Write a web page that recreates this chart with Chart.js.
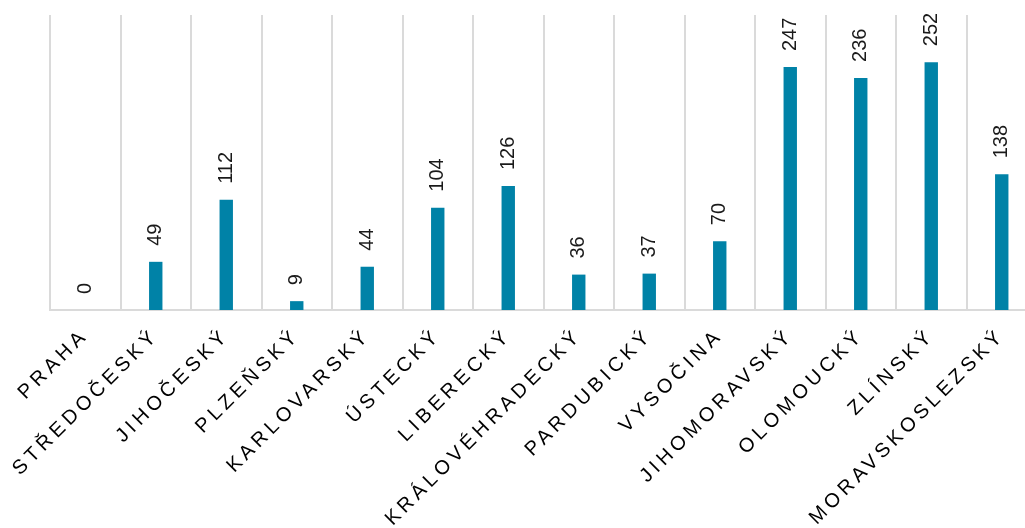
<!DOCTYPE html>
<html>
<head>
<meta charset="utf-8">
<script src="https://cdn.jsdelivr.net/npm/chart.js@4"></script>
<style>
  html, body { margin: 0; padding: 0; background: #fff; overflow: hidden; }
  #wrap { width: 1040px; height: 528px; }
</style>
</head>
<body>
<div id="wrap"><canvas id="kraje-chart"></canvas></div>
<script>
// Počty podle krajů
const kraje = ['PRAHA', 'STŘEDOČESKÝ', 'JIHOČESKÝ', 'PLZEŇSKÝ', 'KARLOVARSKÝ', 'ÚSTECKÝ', 'LIBERECKÝ',
	'KRÁLOVÉHRADECKÝ', 'PARDUBICKÝ', 'VYSOČINA', 'JIHOMORAVSKÝ', 'OLOMOUCKÝ', 'ZLÍNSKÝ', 'MORAVSKOSLEZSKÝ'];
const hodnoty = [0, 49, 112, 9, 44, 104, 126, 36, 37, 70, 247, 236, 252, 138];
const osaY = { min: 0, max: 300 };

const barva = '#0082a7';
const mrizka = '#dadada';
const pismo = '"Liberation Sans", Arial, sans-serif';

// Popisky hodnot nad sloupci, otočené o 90°
const popiskyHodnot = {
	id: 'popiskyHodnot',
	afterDatasetsDraw(chart) {
		const { ctx } = chart;
		const meta = chart.getDatasetMeta(0);

		ctx.save();
		ctx.letterSpacing = '0px';
		ctx.font = '20px ' + pismo;
		ctx.fillStyle = '#1a1a1a';
		ctx.textAlign = 'left';
		ctx.textBaseline = 'middle';

		meta.data.forEach((bar, i) => {
			ctx.save();
			ctx.translate(bar.x, bar.y - 16);
			ctx.rotate(-Math.PI / 2);
			ctx.fillText(String(hodnoty[i]), 0, 0);
			ctx.restore();
		});

		ctx.restore();
	}
};

// Rozestup písmen u popisků osy
const rozestup = {
	id: 'rozestup',
	beforeInit(chart) {
		chart.ctx.letterSpacing = '4.2px';
	},
	beforeDraw(chart) {
		chart.ctx.letterSpacing = '4.2px';
	}
};

const canvas = document.getElementById('kraje-chart');

new Chart(canvas, {
	type: 'bar',
	data: {
		labels: kraje,
		datasets: [{
			data: hodnoty,
			backgroundColor: barva,
			borderWidth: 0,
			barPercentage: 0.19,
			categoryPercentage: 1
		}]
	},
	options: {
		responsive: true,
		maintainAspectRatio: false,
		animation: false,
		events: [],
		layout: { padding: { left: 50, right: 3, top: 15, bottom: 0 } },
		plugins: {
			legend: { display: false },
			tooltip: { enabled: false }
		},
		scales: {
			x: {
				grid: { color: mrizka, lineWidth: 2, drawTicks: false, offset: true },
				border: { color: mrizka, width: 2 },
				ticks: {
					color: '#000',
					font: { family: pismo, size: 20 },
					minRotation: 45,
					maxRotation: 45,
					autoSkip: false,
					padding: 14
				},
				afterFit(scale) {
					scale.paddingLeft = 0;
					scale.paddingRight = 0;
					scale.height = 218;
				}
			},
			y: {
				display: false,
				min: osaY.min,
				max: osaY.max
			}
		}
	},
	plugins: [rozestup, popiskyHodnot]
});
</script>
</body>
</html>
